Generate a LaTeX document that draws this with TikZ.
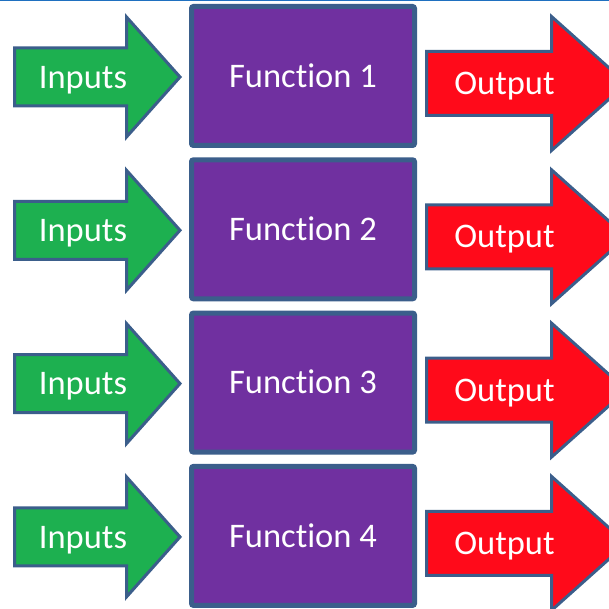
\documentclass[tikz,border=0pt]{standalone}
\usepackage{fontspec}
\setmainfont{Carlito}[Ligatures=NoCommon]
\usetikzlibrary{positioning, calc}
\definecolor{FNpurple}{HTML}{7030A0}
\definecolor{FNgreen}{HTML}{1DB050}
\definecolor{FNred}{HTML}{FF0A1A}
\definecolor{FNedge}{HTML}{3B5E8B}
\definecolor{FNtop}{HTML}{1F70C0}
\tikzset{
  fnlbl/.style={text=white, font=\fontsize{34.5}{41}\selectfont,
    text height=22.2pt, text depth=0pt, inner sep=0pt},
  fnbox/.style={fnlbl, rectangle, rounded corners=2pt, draw=FNedge,
    line width=5pt, fill=FNpurple, minimum width=223pt, minimum height=139pt},
  inshape/.style={draw=FNedge, line width=3pt, fill=FNgreen, line join=miter},
  outshape/.style={draw=FNedge, line width=3pt, fill=FNred, line join=miter},
  inarr/.pic={
    \draw[inshape] (0,0) -- (-53.5,-60) -- (-53.5,-29) -- (-165.5,-29)
      -- (-165.5,29) -- (-53.5,29) -- (-53.5,60) -- cycle;
    \node[fnlbl] (-txt) at (-97,0) {Inputs};
  },
  outarr/.pic={
    \draw[outshape] (0,-32) -- (125,-32) -- (125,-67) -- (200,0)
      -- (125,67) -- (125,32) -- (0,32) -- cycle;
    \node[fnlbl] (-txt) at (78,0) {Output};
  },
}

\begin{document}
\begin{tikzpicture}[x=1pt, y=-1pt]
  \useasboundingbox (0,0) rectangle (609,609);
  \clip (0,0) rectangle (609,609);
  \fill[FNtop] (0,0) rectangle (609,1.5);
  %% Row 1
  \node[fnbox] (f1) at (303,76) {Function 1};
  \pic (in1) at ([xshift=-9pt, yshift=-1pt]f1.west) {inarr};
  \pic (out1) at ([xshift=9.5pt, yshift=-7.5pt]f1.east) {outarr};
  %% Row 2
  \node[fnbox, below=9.3pt of f1] (f2) {Function 2};
  \pic (in2) at ([xshift=-9pt, yshift=-1pt]f2.west) {inarr};
  \pic (out2) at ([xshift=9.5pt, yshift=-7.5pt]f2.east) {outarr};
  %% Row 3
  \node[fnbox, below=9.3pt of f2] (f3) {Function 3};
  \pic (in3) at ([xshift=-9pt, yshift=-1pt]f3.west) {inarr};
  \pic (out3) at ([xshift=9.5pt, yshift=-7.5pt]f3.east) {outarr};
  %% Row 4
  \node[fnbox, below=9.3pt of f3] (f4) {Function 4};
  \pic (in4) at ([xshift=-9pt, yshift=-1pt]f4.west) {inarr};
  \pic (out4) at ([xshift=9.5pt, yshift=-7.5pt]f4.east) {outarr};
\end{tikzpicture}
\end{document}
